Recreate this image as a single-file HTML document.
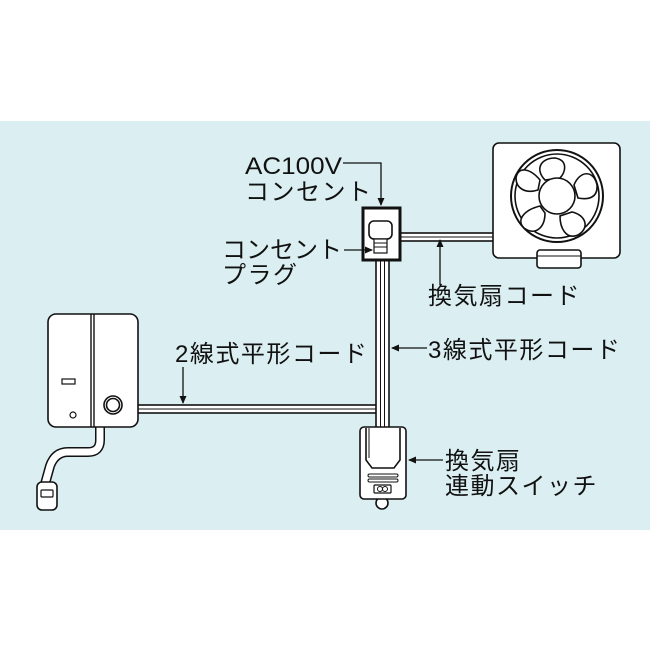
<!DOCTYPE html>
<html><head><meta charset="utf-8"><style>
html,body{margin:0;padding:0;background:#fff;}
svg{display:block}
text{font-family:"Liberation Sans","Noto Sans CJK JP",sans-serif;font-size:24px;fill:#111;letter-spacing:1.5px}
</style></head><body>
<svg width="650" height="650" viewBox="0 0 650 650" xmlns="http://www.w3.org/2000/svg">
<defs><marker id="ah" markerWidth="8" markerHeight="8" refX="7" refY="4" orient="auto" markerUnits="userSpaceOnUse"><path d="M0,0.5 L8,4 L0,7.5 Z" fill="#111"/></marker></defs>
<rect x="0" y="121" width="650" height="409" fill="#dbeff2"/>
<g stroke="#111" stroke-width="1.6" fill="#fff">
<rect x="399" y="233" width="96" height="8"/>
<line x1="399" y1="237" x2="495" y2="237" stroke-width="1"/>
<rect x="136" y="405" width="242" height="8"/>
<line x1="136" y1="409" x2="378" y2="409" stroke-width="1"/>
<rect x="376" y="258" width="13" height="171"/>
<line x1="380.5" y1="258" x2="380.5" y2="429" stroke-width="1"/>
<line x1="384.5" y1="258" x2="384.5" y2="429" stroke-width="1"/>
<rect x="363" y="208" width="37" height="52" stroke-width="3"/>
<rect x="369" y="221" width="23" height="18" rx="5"/>
<rect x="374" y="239" width="13" height="14" stroke-width="1.2"/>
<line x1="374" y1="243" x2="387" y2="243" stroke-width="1"/>
<line x1="374" y1="247" x2="387" y2="247" stroke-width="1"/>
<rect x="493" y="143" width="127" height="115" rx="6"/>
<rect x="537" y="250" width="44" height="18" rx="3"/>
<line x1="537" y1="256" x2="581" y2="256" stroke-width="1"/>
<circle cx="557" cy="196" r="46" stroke-width="2"/>
<circle cx="557" cy="196" r="42"/>
<g stroke-width="1.6">
<path d="M545,180 C535,170 540,158 555,158 C568,160 566,172 560,178 Z"/>
<path d="M574,185 C580,170 594,170 597,185 C598,198 588,200 578,198 Z"/>
<path d="M572,212 C586,215 590,228 578,235 C566,240 560,228 560,216 Z"/>
<path d="M545,213 C545,228 535,236 524,228 C516,220 524,210 540,206 Z"/>
<path d="M538,190 C525,194 516,188 516,178 C518,166 530,168 540,180 Z"/>
</g>
<circle cx="557" cy="196" r="18"/>
<circle cx="382" cy="503" r="6"/>
<rect x="360" y="427" width="46" height="72" rx="4"/>
<path d="M366,428 L366,460 L372,468 L394,468 L400,460 L400,428" />
<line x1="369" y1="428" x2="369" y2="458" stroke-width="1"/>
<rect x="368" y="474" width="30" height="3" rx="1.5" stroke-width="1"/>
<rect x="368" y="479" width="30" height="3" rx="1.5" stroke-width="1"/>
<rect x="374" y="485" width="17" height="8" rx="1" stroke-width="1.2"/>
<circle cx="380" cy="489" r="2.5" stroke-width="1"/>
<circle cx="385" cy="489" r="2.5" stroke-width="1"/>
<path d="M100,426 L100,440 Q100,452 88,452 L68,452 Q55,452 50,466 L45,484" fill="none" stroke-width="10" stroke="#111"/>
<path d="M100,426 L100,440 Q100,452 88,452 L68,452 Q55,452 50,466 L45,484" fill="none" stroke-width="7" stroke="#fff"/>
<rect x="37" y="482" width="20" height="28" rx="5"/>
<rect x="41" y="490" width="12" height="7" rx="1" stroke-width="1.2"/>
<rect x="48" y="314" width="90" height="113" rx="8"/>
<line x1="91" y1="314" x2="91" y2="427" stroke-width="1.4"/>
<line x1="94" y1="314" x2="94" y2="427" stroke-width="1.4"/>
<rect x="62" y="379" width="13" height="5" stroke-width="1.2"/>
<circle cx="73" cy="415" r="3" stroke-width="1.2"/>
<circle cx="113" cy="405" r="9"/>
<circle cx="113" cy="405" r="6.5"/>
</g>
<g stroke="#111" stroke-width="1.3" fill="none">
<polyline points="343,163 381,163 381,205" marker-end="url(#ah)"/>
<line x1="344" y1="250" x2="372" y2="250" marker-end="url(#ah)"/>
<line x1="440" y1="285" x2="440" y2="240" marker-end="url(#ah)"/>
<line x1="183" y1="367" x2="183" y2="403" marker-end="url(#ah)"/>
<line x1="427" y1="348" x2="392" y2="348" marker-end="url(#ah)"/>
<line x1="443" y1="460" x2="409" y2="460" marker-end="url(#ah)"/>
</g>
<text x="245" y="174" textLength="97" lengthAdjust="spacingAndGlyphs" style="letter-spacing:0">AC100V</text>
<text x="245" y="200">コンセント</text>
<text x="222" y="258" style="letter-spacing:0">コンセント</text>
<text x="222" y="283">プラグ</text>
<text x="428" y="304">換気扇コード</text>
<text x="175" y="362">2線式平形コード</text>
<text x="428" y="358">3線式平形コード</text>
<text x="445" y="469">換気扇</text>
<text x="445" y="494">連動スイッチ</text>
</svg>
</body></html>
